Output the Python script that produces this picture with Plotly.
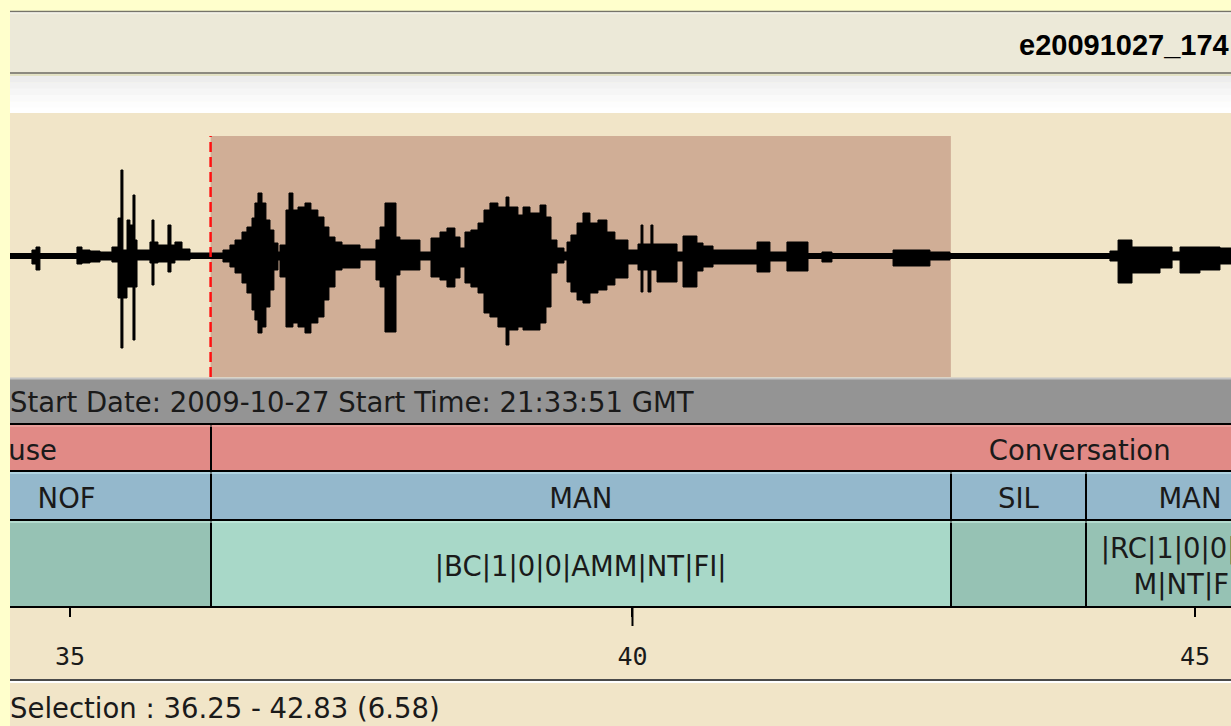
import plotly.graph_objects as go

# ------------------------------------------------------------------ data
x_range = [34.467, 45.32]            # visible time window (s)
selection = [36.25, 42.83]           # selected interval (s)

# waveform envelope: time (s), upper and lower amplitude (step-wise)
wave_t = [34.467, 34.662, 34.698, 34.733, 35.062, 35.107, 35.178, 35.267, 35.373, 35.427,
          35.453, 35.471, 35.507, 35.533, 35.560, 35.578, 35.596, 35.711, 35.729, 35.747,
          35.782, 35.871, 35.898, 35.933, 35.996, 36.067, 36.360, 36.422, 36.467, 36.529,
          36.573, 36.618, 36.644, 36.671, 36.707, 36.742, 36.778, 36.813, 36.849, 36.867,
          36.920, 36.947, 36.982, 37.027, 37.089, 37.142, 37.204, 37.258, 37.302, 37.356,
          37.418, 37.578, 37.720, 37.756, 37.800, 37.898, 37.933, 38.111, 38.209, 38.289,
          38.351, 38.422, 38.467, 38.511, 38.564, 38.627, 38.680, 38.733, 38.804, 38.876,
          38.902, 38.982, 39.027, 39.089, 39.178, 39.231, 39.276, 39.329, 39.391, 39.418,
          39.453, 39.507, 39.560, 39.622, 39.693, 39.773, 39.844, 39.960, 40.049, 40.076,
          40.093, 40.138, 40.164, 40.182, 40.218, 40.396, 40.449, 40.573, 40.627, 40.716,
          41.107, 41.222, 41.373, 41.560, 41.684, 41.773, 42.316, 42.644, 42.822, 44.244,
          44.316, 44.440, 44.689, 44.796, 44.867, 45.044, 45.222]
wave_hi = [0.025, 0.06, 0.09, 0.025, 0.09, 0.06, 0.05, 0.04, 0.09, 0.38,
           0.86, 0.06, 0.36, 0.31, 0.61, 0.16, 0.06, 0.14, 0.36, 0.14,
           0.11, 0.31, 0.11, 0.14, 0.07, 0.03, 0.06, 0.11, 0.16, 0.24,
           0.29, 0.38, 0.53, 0.63, 0.53, 0.36, 0.26, 0.13, 0.04, 0.11,
           0.46, 0.63, 0.46, 0.49, 0.53, 0.46, 0.39, 0.29, 0.19, 0.14,
           0.11, 0.07, 0.16, 0.29, 0.53, 0.19, 0.16, 0.04, 0.18, 0.24,
           0.28, 0.19, 0.08, 0.24, 0.26, 0.33, 0.46, 0.53, 0.49, 0.59,
           0.49, 0.41, 0.49, 0.43, 0.51, 0.39, 0.16, 0.08, 0.04, 0.14,
           0.21, 0.33, 0.43, 0.33, 0.36, 0.24, 0.16, 0.06, 0.12, 0.31,
           0.12, 0.12, 0.31, 0.12, 0.12, 0.04, 0.20, 0.13, 0.10, 0.06,
           0.14, 0.04, 0.14, 0.025, 0.04, 0.025, 0.06, 0.04, 0.025, 0.05,
           0.16, 0.09, 0.09, 0.04, 0.09, 0.09, 0.08]
wave_lo = [0.025, 0.08, 0.14, 0.025, 0.08, 0.07, 0.06, 0.04, 0.06, 0.42,
           0.92, 0.42, 0.31, 0.31, 0.84, 0.31, 0.04, 0.07, 0.29, 0.07,
           0.06, 0.16, 0.07, 0.04, 0.04, 0.025, 0.06, 0.11, 0.17, 0.27,
           0.37, 0.54, 0.64, 0.77, 0.71, 0.51, 0.34, 0.14, 0.04, 0.21,
           0.71, 0.71, 0.67, 0.71, 0.77, 0.67, 0.61, 0.44, 0.31, 0.14,
           0.12, 0.04, 0.24, 0.31, 0.76, 0.19, 0.14, 0.04, 0.21, 0.24,
           0.31, 0.22, 0.11, 0.27, 0.31, 0.37, 0.57, 0.61, 0.71, 0.89,
           0.74, 0.71, 0.74, 0.74, 0.67, 0.51, 0.17, 0.07, 0.04, 0.26,
           0.36, 0.44, 0.47, 0.37, 0.34, 0.29, 0.22, 0.08, 0.14, 0.36,
           0.14, 0.36, 0.14, 0.14, 0.26, 0.05, 0.31, 0.15, 0.11, 0.08,
           0.16, 0.05, 0.15, 0.025, 0.06, 0.025, 0.10, 0.04, 0.025, 0.05,
           0.27, 0.17, 0.12, 0.04, 0.17, 0.14, 0.08]

# annotation tiers
event_labels = ["Pause", "Conversation"]
event_start = [32.80, 36.25]
event_end = [36.25, 51.70]

speaker_labels = ["NOF", "MAN", "SIL", "MAN"]
speaker_start = [33.69, 36.25, 42.83, 44.03]
speaker_end = [36.25, 42.83, 44.03, 45.88]

code_labels = ["", "|BC|1|0|0|AMM|NT|FI|", "", "|RC|1|0|0|AMM|NT|FI|"]
code_start = [33.69, 36.25, 42.83, 44.03]
code_end = [36.25, 42.83, 44.03, 45.88]

tick_values = [35, 40, 45]
tick_labels = ["35", "40", "45"]
major_tick_values = [40]

file_title = "e20091027_174"
start_info = "Start Date: 2009-10-27 Start Time: 21:33:51 GMT"

# ------------------------------------------------------------------ layout helpers
W, H = 1231, 726
def PX(p):
    return p / W
def PY(p):
    return 1 - p / H

YELLOW = "#FFFFCC"
BEIGE = "#F1E5C8"
SEL = "#D0AE96"
RED = "#E18A86"
BLUE = "#94B8CC"
GREEN_SEL = "#A8D8C8"
GREEN = "#96C2B4"
GRAY = "#949494"
TITLEBAR = "#ECE9D8"
FONT = "DejaVu Sans"
FS = 27.5
TEXT_DROP = 5.5   # px
PX_PER_S = (W - 10) / (x_range[1] - x_range[0])

fig = go.Figure()

# waveform envelope
t_ext = wave_t + [x_range[1]]
hi_ext = wave_hi + [wave_hi[-1]]
lo_ext = [-v for v in wave_lo] + [-wave_lo[-1]]
fig.add_trace(go.Scatter(x=t_ext, y=hi_ext, mode="lines", line=dict(color="black", width=1, shape="hv"),
                         xaxis="x", yaxis="y", hoverinfo="skip"))
fig.add_trace(go.Scatter(x=t_ext, y=lo_ext, mode="lines", line=dict(color="black", width=1, shape="hv"),
                         fill="tonexty", fillcolor="black", xaxis="x", yaxis="y", hoverinfo="skip"))


def wrap(label, start, end):
    seg_px = (end - start) * PX_PER_S
    per_line = max(1, int((seg_px - 20) / 15.5))
    if len(label) <= per_line:
        return label
    return "<br>".join(label[i:i + per_line] for i in range(0, len(label), per_line))


def tier(labels, starts, ends, colors, yaxis, row_px):
    fig.add_trace(go.Bar(
        orientation="h", y=[0] * len(labels), base=starts,
        x=[e - s for s, e in zip(starts, ends)], width=1,
        marker=dict(color=colors, line=dict(color="black", width=2)),
        xaxis="x", yaxis=yaxis, hoverinfo="skip"))
    fig.add_trace(go.Scatter(
        x=[(s + e) / 2 for s, e in zip(starts, ends)], y=[-TEXT_DROP / row_px] * len(labels),
        text=[wrap(l, s, e) for l, s, e in zip(labels, starts, ends)],
        mode="text", textposition="middle center",
        textfont=dict(family=FONT, size=FS, color="#1a1a1a"),
        xaxis="x", yaxis=yaxis, hoverinfo="skip"))


sel_mid = (selection[0] + selection[1]) / 2
ROWS = {"y2": (424, 471), "y3": (471, 520), "y4": (520, 607)}
tier(event_labels, event_start, event_end, [RED] * len(event_labels), "y2", 47)
tier(speaker_labels, speaker_start, speaker_end, [BLUE] * len(speaker_labels), "y3", 49)
tier(code_labels, code_start, code_end,
     [GREEN_SEL if s < sel_mid < e else GREEN for s, e in zip(code_start, code_end)], "y4", 87)

# ------------------------------------------------------------------ decorations
shapes = []
def prect(x0, y0, x1, y1, color, layer="below"):
    shapes.append(dict(type="rect", xref="paper", yref="paper", x0=PX(x0), x1=PX(x1),
                       y0=PY(y1), y1=PY(y0), fillcolor=color, line=dict(width=0), layer=layer))
def phline(y, color, width, x0=10, x1=W, layer="below"):
    shapes.append(dict(type="line", xref="paper", yref="paper", x0=PX(x0), x1=PX(x1),
                       y0=PY(y), y1=PY(y), line=dict(color=color, width=width), layer=layer))

# title bar
prect(10, 12, W, 74, TITLEBAR)
phline(11.5, "#76746A", 1.5)
phline(13, "#F8F8F4", 1)
phline(73, "#8C8A80", 2)
phline(75, "#C8C6BE", 1)
# white gradient strip
band_cols = ["#EDEDED", "#F2F2F2", "#F6F6F6", "#FAFAFA", "#FDFDFD", "#FFFFFF"]
for i, c in enumerate(band_cols):
    prect(10, 76 + i * 6.3, W, 76 + (i + 1) * 6.3 + 0.5, c)
# beige body
prect(10, 113, W, H, BEIGE)
# gray info bar
prect(10, 378, W, 424, GRAY)
phline(378.5, "#C4C4C4", 2)
# status separator
phline(680, "#4A4A4A", 2)
phline(682, "#FFFFFF", 2)
# tier separators (above)
phline(424, "black", 2, layer="above")
phline(471, "black", 2, layer="above")
phline(520, "black", 2, layer="above")
# light bevel at tops of rows
phline(426, "#F2B4B0", 1, layer="above")
phline(473, "#CDEFF6", 1, layer="above")
phline(522, "#CFF4E8", 1, layer="above")

# selection
shapes.append(dict(type="rect", xref="x", yref="y domain", x0=selection[0], x1=selection[1],
                   y0=0, y1=1, fillcolor=SEL, line=dict(width=0), layer="below"))
shapes.append(dict(type="line", xref="x", yref="y domain", x0=selection[0], x1=selection[0],
                   y0=0, y1=1, line=dict(color="#FF1010", width=2.5, dash="10px,5px"), layer="above"))
# longer major tick marks
for v in major_tick_values:
    shapes.append(dict(type="line", xref="x", yref="paper", x0=v, x1=v, y0=PY(607), y1=PY(626),
                       line=dict(color="black", width=2), layer="above"))

annotations = [
    dict(text="<b>" + file_title + "</b>", xref="paper", yref="paper", x=1, y=PY(45),
         xanchor="right", yanchor="middle", showarrow=False,
         font=dict(family="Liberation Sans", size=29, color="black")),
    dict(text=start_info, xref="paper", yref="paper", x=PX(8), y=PY(402),
         xanchor="left", yanchor="middle", showarrow=False,
         font=dict(family=FONT, size=FS, color="#1a1a1a")),
    dict(text="Selection : %.2f - %.2f (%.2f)" % (selection[0], selection[1], selection[1] - selection[0]),
         xref="paper", yref="paper", x=PX(8), y=PY(708), xanchor="left", yanchor="middle",
         showarrow=False, font=dict(family=FONT, size=FS, color="#1a1a1a")),
]

hidden = dict(visible=False, fixedrange=True)
fig.update_layout(
    width=W, height=H, autosize=False,
    margin=dict(l=0, r=0, t=0, b=0),
    paper_bgcolor=YELLOW, plot_bgcolor="rgba(0,0,0,0)",
    showlegend=False, hovermode=False, bargap=0,
    shapes=shapes, annotations=annotations,
    xaxis=dict(domain=[PX(10), 1], range=x_range, anchor="free", position=PY(607),
               showline=True, linecolor="black", linewidth=2,
               ticks="outside", tickvals=tick_values, ticktext=tick_labels,
               ticklen=9, tickwidth=2, tickcolor="black", ticklabelstandoff=18,
               tickfont=dict(family="DejaVu Sans Mono", size=25, color="#1a1a1a"),
               showgrid=False, zeroline=False, automargin=False, fixedrange=True),
    yaxis=dict(domain=[PY(377), PY(136)], range=[-1.21, 1.20], **hidden),
    yaxis2=dict(domain=[PY(471), PY(424)], range=[-0.5, 0.5], **hidden),
    yaxis3=dict(domain=[PY(520), PY(471)], range=[-0.5, 0.5], **hidden),
    yaxis4=dict(domain=[PY(607), PY(520)], range=[-0.5, 0.5], **hidden),
)

fig.write_html("out.html", config={"displayModeBar": False},
               post_script="document.body.style.margin='0px';document.body.style.padding='0px';")
